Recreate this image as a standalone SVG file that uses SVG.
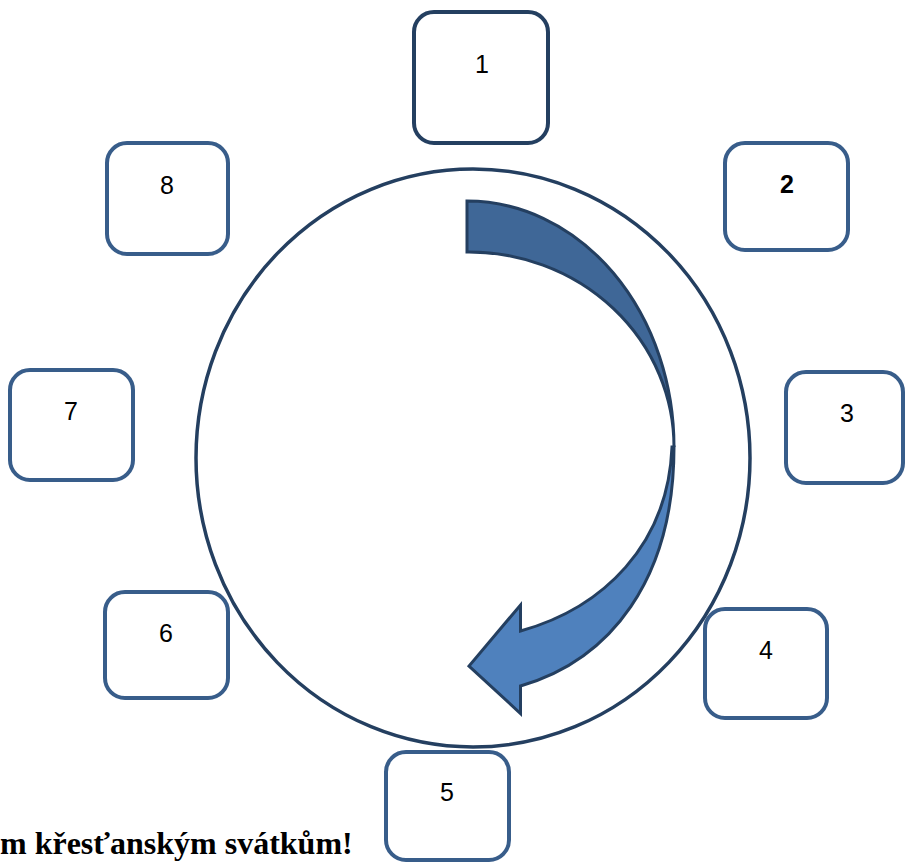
<svg xmlns="http://www.w3.org/2000/svg" width="905" height="862" viewBox="0 0 905 862">
<style>
.box{fill:#fff;stroke:#385D8A;stroke-width:4}
.box1{fill:#fff;stroke:#243F60;stroke-width:4}
.lbl{font-family:"Liberation Sans",Arial,sans-serif;font-size:25px;fill:#000;text-anchor:middle}
.arrow{stroke:#243F60;stroke-width:3;stroke-linejoin:miter}
</style>
<rect width="905" height="862" fill="#fff"/>
<g id="connectors">
<ellipse id="circle" cx="473" cy="458" rx="277" ry="289" fill="#fff" stroke="#243F60" stroke-width="3.5"/>
<g id="arrow">
<path class="arrow" fill="#4F81BD" d="M674,447 C674,580 610,660 520.5,686 L520.5,713.5 L469,666 L520.5,605 L520.5,631 C603,608 668,545 672,447 Z"/>
<path class="arrow" fill="#3F6797" d="M467,201 A207,246 0 0 1 674,447 A205,195 0 0 0 467,252 Z"/>
</g>
</g>
<g id="node1"><rect class="box1" x="414" y="12" width="134" height="131" rx="20"/><text class="lbl" x="482" y="73">1</text></g>
<g id="node2"><rect class="box" x="725" y="143" width="123" height="107" rx="20"/><text class="lbl" x="787" y="193" font-weight="bold">2</text></g>
<g id="node3"><rect class="box" x="786" y="372" width="117" height="111" rx="20"/><text class="lbl" x="847" y="422">3</text></g>
<g id="node4"><rect class="box" x="705" y="609" width="122" height="109" rx="20"/><text class="lbl" x="766" y="659">4</text></g>
<g id="node5"><rect class="box" x="386" y="752" width="123" height="108" rx="20"/><text class="lbl" x="447" y="801">5</text></g>
<g id="node6"><rect class="box" x="105" y="592" width="123" height="106" rx="20"/><text class="lbl" x="166" y="642">6</text></g>
<g id="node7"><rect class="box" x="10" y="370" width="123" height="110" rx="20"/><text class="lbl" x="71" y="420">7</text></g>
<g id="node8"><rect class="box" x="107" y="143" width="121" height="111" rx="20"/><text class="lbl" x="167" y="194">8</text></g>
<text x="0" y="854" font-family="'Liberation Serif','Times New Roman',serif" font-size="32" font-weight="bold" fill="#000">m křesťanským svátkům!</text>
</svg>
